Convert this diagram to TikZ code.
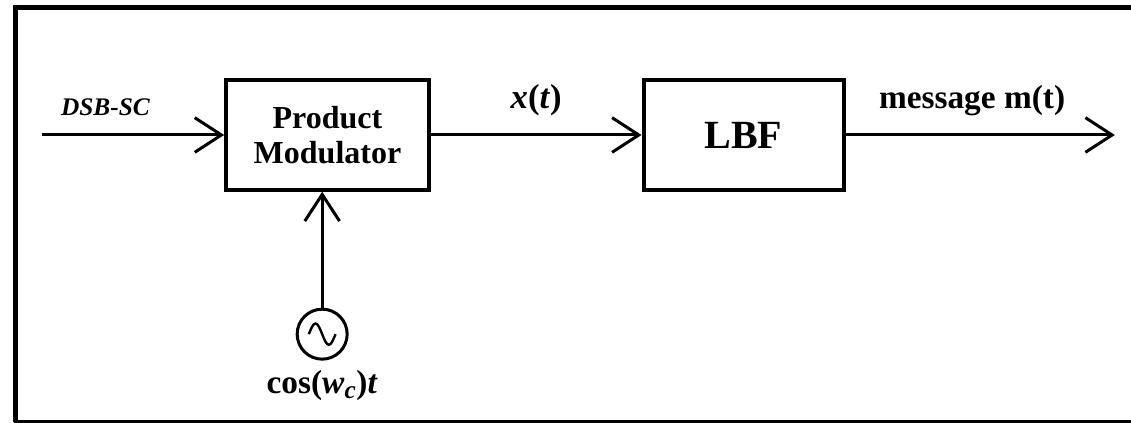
\documentclass[tikz,border=0pt]{standalone}
\usepackage{fontspec}
\setmainfont{Liberation Serif}
\usetikzlibrary{positioning,arrows.meta}
\tikzset{
	block/.style={draw, line width=3pt, minimum width=152pt, minimum height=82pt, align=center},
	sig/.style={line width=2.25pt, -{Straight Barb[length=20pt,width=26pt]}},
	lbl/.style={font=\bfseries\fontsize{22}{24}\selectfont, inner sep=1pt},
}
\begin{document}
\begin{tikzpicture}[x=0.75pt,y=0.75pt]
	\useasboundingbox (0,0) rectangle (1131,423);
	% frame, cut off at the right
	\draw[line width=3.75pt] (1140,415) -- (15,415) -- (15,1);
	\draw[line width=2.25pt] (13.5,1.5) -- (1140,1.5);
	\node[block, font=\bfseries\fontsize{24}{26}\selectfont] (pm) at (327.5,288) {Product\\Modulator};
	\node[block, right=158pt of pm, minimum width=150pt, font=\bfseries\fontsize{30}{32}\selectfont] (lbf) {LBF};
	\coordinate[left=137pt of pm] (in);
	\coordinate[right=202pt of lbf] (out);
	\node[draw, circle, line width=2.25pt, minimum size=37.5pt, inner sep=0pt, below=87pt of pm, xshift=-4pt] (osc) {};
	\draw[line width=1.8pt] ([xshift=-10pt]osc.center) sin ++(5pt,8pt) cos ++(5pt,-8pt) sin ++(5pt,-8pt) cos ++(5pt,8pt); %wave sign
	\node[lbl, below=6pt of osc, font=\bfseries\fontsize{25}{27}\selectfont] (cosl) {cos(\textit{w}\textsubscript{\textit{\fontsize{19}{20}\selectfont c}})\textit{t}};
	\draw[sig] (in) -- node[lbl, pos=0.35, above=12pt, font=\bfseries\itshape\fontsize{19}{21}\selectfont] {DSB-SC} (pm);
	\draw[sig] (pm) -- node[lbl, above=12pt, font=\bfseries\fontsize{26}{28}\selectfont] {\textit{x}(\textit{t})} (lbf);
	\draw[sig] (lbf) -- node[lbl, pos=0.47, above=12pt, font=\bfseries\fontsize{25}{27}\selectfont] {message m(t)} (out);
	\draw[sig] (osc) -- (osc |- pm.south);
\end{tikzpicture}
\end{document}
